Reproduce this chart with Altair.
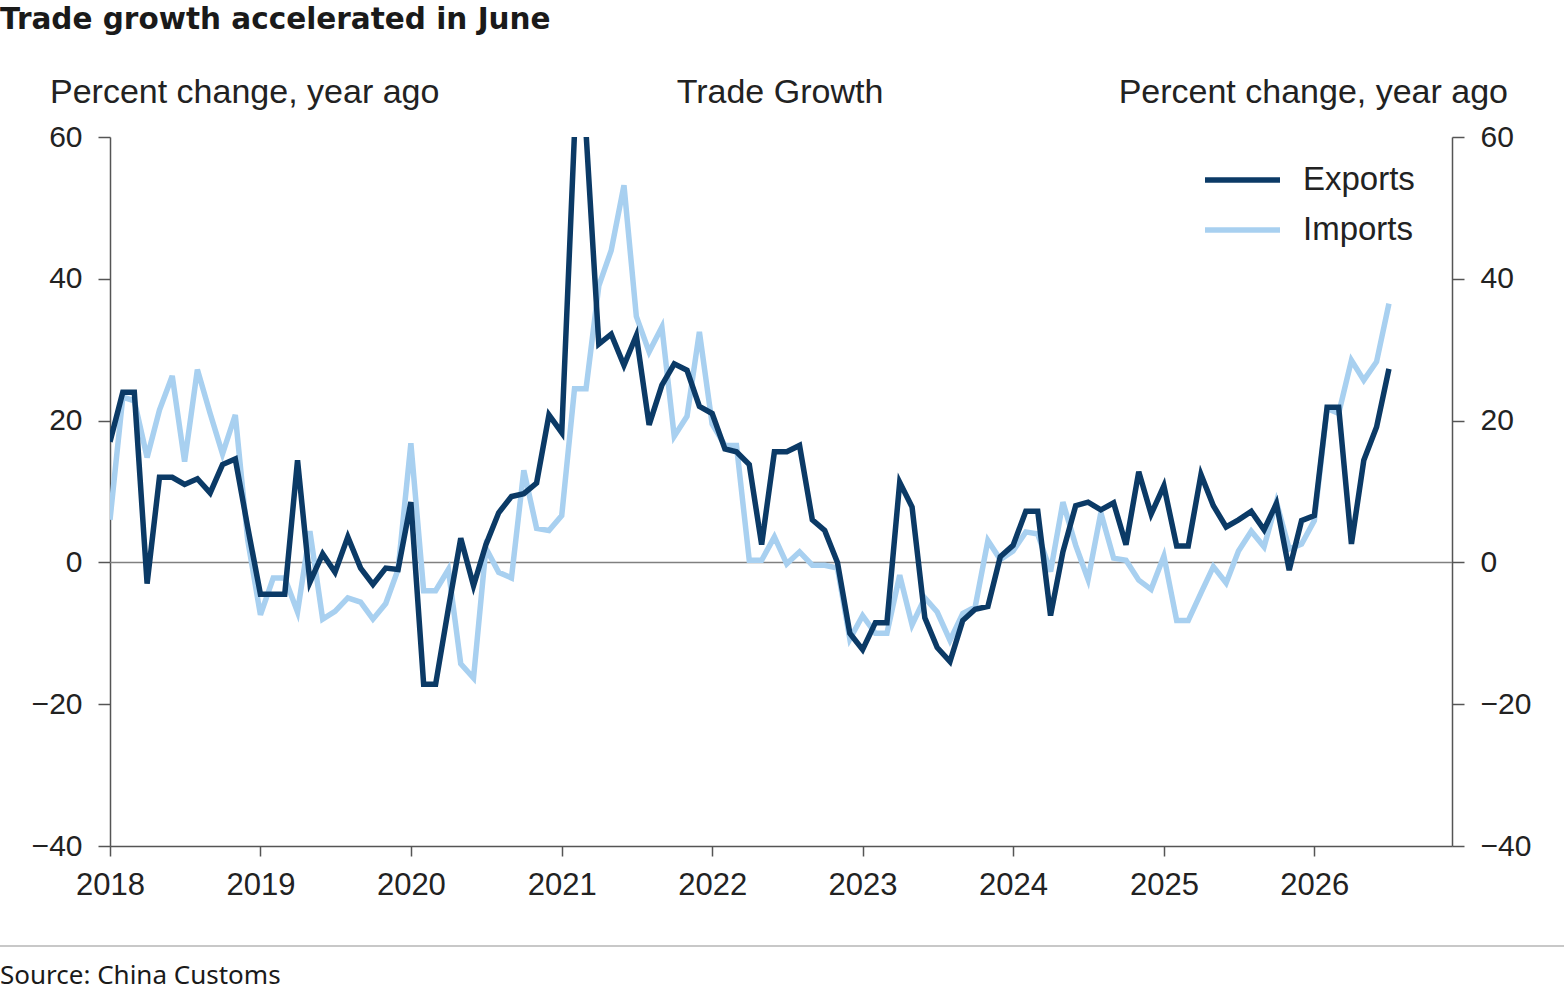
import altair as alt
import pandas as pd

# ---------------- data ----------------
periods = pd.date_range("2018-01-01", periods=103, freq="MS").strftime("%Y-%m-%d").tolist()

exports = [17, 24, 24, -3, 12, 12, 11, 11.8, 9.8, 13.8, 14.6, 5,
           -4.5, -4.5, -4.5, 14.4, -2.8, 1.2, -1.4, 3.6, -0.8, -3.1, -0.8, -1,
           8.5, -17.2, -17.2, -6.5, 3.4, -3.3, 2.5, 7, 9.3, 9.7, 11.2, 20.8,
           18.3, 60.6, 60.6, 30.8, 32.2, 27.8, 32, 19.4, 25, 28, 27.1, 22,
           21, 16, 15.6, 13.8, 2.5, 15.6, 15.6, 16.5, 6, 4.5, 0, -10,
           -12.3, -8.5, -8.5, 11.3, 7.8, -7.8, -12, -14, -8.2, -6.6, -6.2, 0.8,
           2.4, 7.2, 7.2, -7.5, 1.5, 8, 8.5, 7.4, 8.4, 2.5, 12.8, 6.8,
           10.8, 2.3, 2.3, 12.4, 8, 5, 6, 7.2, 4.6, 8.3, -1.1, 5.9,
           6.6, 21.9, 21.9, 2.6, 14.4, 19.1, 27.3]

imports = [6, 23.3, 22.8, 14.8, 21.5, 26.3, 14.2, 27.2, 21, 15.3, 20.8, 3.2,
           -7.4, -2.2, -2.2, -7, 4.4, -8, -6.9, -5, -5.6, -8, -5.8, -1,
           16.8, -4, -4, -1, -14.3, -16.3, 2, -1.4, -2.2, 13, 4.8, 4.5,
           6.6, 24.5, 24.5, 39, 44, 53.2, 34.7, 29.7, 33.2, 17.8, 20.6, 32.5,
           19.5, 16.5, 16.5, 0.3, 0.3, 3.6, -0.2, 1.5, -0.4, -0.4, -0.8, -10.8,
           -7.5, -10, -10, -1.8, -8.8, -5, -7, -11, -7.2, -6.3, 3.1, 0.4,
           1.6, 4.3, 4, -1.3, 8.5, 2.4, -2.4, 7, 0.6, 0.3, -2.5, -3.8,
           0.9, -8.2, -8.2, -4.3, -0.6, -2.9, 1.6, 4.4, 2.2, 8.5, 1.9, 2.6,
           5.9, 21.7, 21, 28.5, 25.7, 28.3, 36.5]

series_names = ["Exports", "Imports"]
series_colors = ["#0b3a66", "#a8d0f0"]
y_ticks = [-40, -20, 0, 20, 40, 60]
year_ticks = list(range(2018, 2027))

title_text = "Trade growth accelerated in June"
center_text = "Trade Growth"
axis_title_text = "Percent change, year ago"
source_text = "Source: China Customs"

df = pd.DataFrame({
    "date": periods * 2,
    "value": exports + imports,
    "series": ["Exports"] * len(exports) + ["Imports"] * len(imports),
})

# ---------------- styling ----------------
FONT = "Liberation Sans"
TFONT = "Noto Sans"
AX = "#555555"
W, H = 1342, 709

x_scale = alt.Scale(type="utc", domain=[alt.DateTime(year=2018, month=1, date=1, utc=True),
                                       alt.DateTime(year=2026, month=12, date=1, utc=True)])
y_scale = alt.Scale(domain=[-40, 60], nice=False, zero=False)

x_axis = alt.Axis(values=[alt.DateTime(year=y, month=1, date=1, utc=True) for y in year_ticks],
                  format="%Y", title=None, grid=False, labelFont=FONT, labelFontSize=31,
                  labelColor="#222222", labelPadding=14, tickSize=10, tickWidth=1.5,
                  tickColor=AX, domainColor=AX, domainWidth=1.5, labelFlush=False)
left_axis = alt.Axis(values=y_ticks, orient="left", title=None, grid=False, labelFont=FONT,
                     labelFontSize=30, labelColor="#222222", labelPadding=16, tickSize=12,
                     tickWidth=1.5, tickColor=AX, domainColor=AX, domainWidth=1.5)
right_axis = alt.Axis(values=y_ticks, orient="right", title=None, grid=False, labelFont=FONT,
                      labelFontSize=30, labelColor="#222222", labelPadding=16, tickSize=12,
                      tickWidth=1.5, tickColor=AX, domainColor=AX, domainWidth=1.5)

color = alt.Color("series:N", scale=alt.Scale(domain=series_names, range=series_colors),
                  legend=None)

zero = alt.Chart(pd.DataFrame({"z": [0]})).mark_rule(color="#808080", strokeWidth=1.5).encode(
    y=alt.YDatum(0, scale=y_scale, axis=right_axis))

imp = alt.Chart(df).transform_filter(alt.datum.series == "Imports").mark_line(
    strokeWidth=5.5, clip=True).encode(
    x=alt.X("date:T", scale=x_scale, axis=x_axis),
    y=alt.Y("value:Q", scale=y_scale, axis=None),
    color=color)

exp = alt.Chart(df).transform_filter(alt.datum.series == "Exports").mark_line(
    strokeWidth=5.5, clip=True).encode(
    x=alt.X("date:T", scale=x_scale, axis=x_axis),
    y=alt.Y("value:Q", scale=y_scale, axis=left_axis),
    color=color)

one = pd.DataFrame({"a": [0]})

def txt(text, x, y, align="left", size=34, font=FONT, weight="normal", color="#222222",
        baseline="middle"):
    return alt.Chart(one).mark_text(text=text, align=align, baseline=baseline, fontSize=size,
                                    font=font, fontWeight=weight, color=color).encode(
        x=alt.value(x), y=alt.value(y))

def hline(x1, x2, y, col, w):
    return alt.Chart(one).mark_rule(color=col, strokeWidth=w).encode(
        x=alt.value(x1), x2=alt.value(x2), y=alt.value(y))

# legend (drawn by hand: swatch line + label per series)
legend_layers = []
for i, (name, col) in enumerate(zip(series_names, series_colors)):
    ly = 43 + 50 * i
    legend_layers.append(hline(1095, 1170, ly, col, 5.5))
    legend_layers.append(txt(name, 1193, ly, size=33))

t_left = txt(axis_title_text, -60, -44)
t_center = txt(center_text, 670, -44, align="center")
t_right = txt(axis_title_text, 1398, -44, align="right")
t_main = txt(title_text, -110, -108.5, size=29.5, font="DejaVu Sans", weight="bold",
             color="#1a1a1a", baseline="alphabetic")
t_src = txt(source_text, -110, 847, size=26, font=TFONT, color="#1a1a1a",
            baseline="alphabetic")
sep = hline(-110, 1454, 809, "#c8c8c8", 2)

chart = alt.layer(zero, imp, exp, *legend_layers, t_left, t_center, t_right, t_main, t_src,
                  sep).resolve_scale(
    y="independent"
).properties(
    width=W, height=H,
    autosize=alt.AutoSizeParams(type="none"),
    padding={"left": 110, "top": 137, "right": 112, "bottom": 146},
    background="white",
).configure_view(strokeWidth=0)

chart.save("out.html", embed_options={"renderer": "svg", "actions": False})
